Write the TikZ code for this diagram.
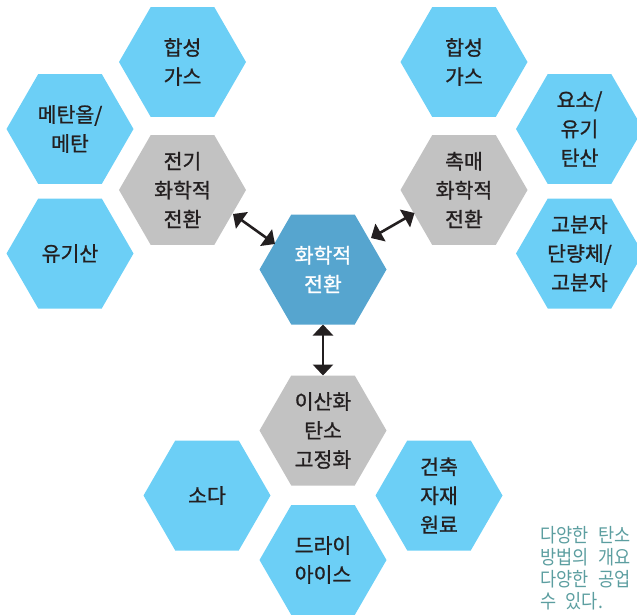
\documentclass[tikz,border=0pt]{standalone}
\usepackage{fontspec}
\setmainfont[FakeBold=1]{Noto Sans CJK KR}
\newfontfamily\capfont[FakeStretch=0.9,WordSpace=2.4]{Noto Sans CJK KR}
\usetikzlibrary{shapes.geometric,arrows.meta,calc}
\definecolor{hexcyan}{HTML}{6CCFF6}
\definecolor{hexmid}{HTML}{56A5CF}
\definecolor{hexgray}{HTML}{C2C2C2}
\definecolor{txtdark}{HTML}{231F20}
\definecolor{captxt}{HTML}{5C9EA0}
\tikzset{
  hexbase/.style={regular polygon, regular polygon sides=6,
    minimum size=127pt, inner sep=0pt, outer sep=0pt},
  hexc/.style={hexbase, fill=hexcyan},
  hexg/.style={hexbase, fill=hexgray},
  hexm/.style={hexbase, fill=hexmid},
  hextext/.style={align=center, font=\fontsize{20.5}{29}\selectfont, text=txtdark, inner sep=0pt},
  hextextw/.style={hextext, text=white},
  dblarrow/.style={line width=2.6pt, draw=txtdark, {Triangle[length=11pt,width=20pt]}-{Triangle[length=11pt,width=20pt]}},
  captext/.style={anchor=base west, inner sep=0pt, text=captxt, font=\capfont\fontsize{19.5}{19.5}\selectfont}
}
\begin{document}
\begin{tikzpicture}[x=1pt,y=-1pt]
\clip (0,0) rectangle (637,614);
% hexagons
\node[hexc] (synL) at (182.5,62) {};
\node[hexc] (meth) at (70,129) {};
\node[hexc] (orga) at (70,253.5) {};
\node[hexg] (elec) at (182.5,190) {};
\node[hexc] (synR) at (464,62) {};
\node[hexc] (urea) at (579.5,129) {};
\node[hexc] (poly) at (579.5,253.5) {};
\node[hexg] (cata) at (464,190) {};
\node[hexm] (cent) at (323,269.5) {};
\node[hexg] (cofx) at (323,430.5) {};
\node[hexc] (soda) at (207,495.5) {};
\node[hexc] (dryi) at (323,560) {};
\node[hexc] (buil) at (439,495.5) {};
% texts
\node[hextext] (synLt) at (synL) {합성\\가스};
\node[hextext] (metht) at (meth) {메탄올/\\메탄};
\node[hextext] (orgat) at (orga) {유기산};
\node[hextext] (elect) at (elec) {전기\\화학적\\전환};
\node[hextext] (synRt) at (synR) {합성\\가스};
\node[hextext] (ureat) at (urea) {요소/\\유기\\탄산};
\node[hextext] (polyt) at (poly) {고분자\\단량체/\\고분자};
\node[hextext] (catat) at (cata) {촉매\\화학적\\전환};
\node[hextextw] (centt) at (cent) {화학적\\전환};
\node[hextext] (cofxt) at (cofx) {이산화\\탄소\\고정화};
\node[hextext] (sodat) at (soda) {소다};
\node[hextext] (dryit) at (dryi) {드라이\\아이스};
\node[hextext] (built) at (buil) {건축\\자재\\원료};
% arrows
\draw[dblarrow] ($(elec)+(50.5,24)$) -- ($(cent)+(-48,-25.5)$);
\draw[dblarrow] ($(cent)+(48,-31.5)$) -- ($(cata)+(-49.5,23)$);
\draw[dblarrow] ($(cent)+(0,55)$) -- ($(cofx)+(0,-55)$);
% caption
\node[captext] (cap1) at (540,542) {다양한 탄소};
\node[captext] (cap2) at (540,564) {방법의 개요};
\node[captext] (cap3) at (540,586) {다양한 공업};
\node[captext] (cap4) at (540,608) {수 있다.};
\end{tikzpicture}
\end{document}
